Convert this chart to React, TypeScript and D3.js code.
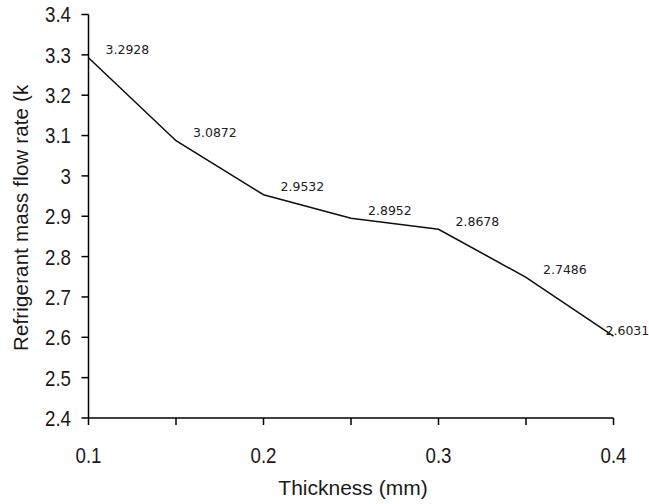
import React from "react";
import * as d3 from "d3";

const thickness = [0.1, 0.15, 0.2, 0.25, 0.3, 0.35, 0.4];
const flowRate = [3.2928, 3.0872, 2.9532, 2.8952, 2.8678, 2.7486, 2.6031];
const valueLabels = ["3.2928", "3.0872", "2.9532", "2.8952", "2.8678", "2.7486", "2.6031"];
const xTickLabels = [0.1, 0.2, 0.3, 0.4];
const yTickValues = [2.4, 2.5, 2.6, 2.7, 2.8, 2.9, 3.0, 3.1, 3.2, 3.3, 3.4];

export default function App() {
  const W = 649, H = 504;
  const x = d3.scaleLinear().domain([0.1, 0.4]).range([88.5, 613.5]);
  const y = d3.scaleLinear().domain([2.4, 3.4]).range([418, 14.5]);
  const line = d3.line<number>().x((_, i) => x(thickness[i])).y((d) => y(d));
  const xMinor = d3.range(0.1, 0.4001, 0.05);
  const font = "'Liberation Sans', Arial, sans-serif";
  const last = flowRate.length - 1;
  return (
    <svg width={W} height={H} style={{ position: "absolute", left: 0, top: 0, background: "#fff" }}>
      <defs>
        <clipPath id="ylab">
          <rect x={0} y={84} width={60} height={300} />
        </clipPath>
      </defs>
      <rect width={W} height={H} fill="#fff" />
      <line x1={x(0.1)} x2={x(0.1)} y1={y(3.4)} y2={y(2.4)} stroke="#000" strokeWidth={1.5} />
      <line x1={x(0.1)} x2={x(0.4)} y1={y(2.4)} y2={y(2.4)} stroke="#000" strokeWidth={1.5} />
      {yTickValues.map((v) => (
        <g key={v}>
          <line x1={x(0.1) - 7} x2={x(0.1)} y1={y(v)} y2={y(v)} stroke="#000" strokeWidth={1.5} />
          <text
            transform={`translate(71,${y(v)}) scale(0.85,1)`}
            dy="0.36em"
            textAnchor="end"
            fontFamily={font}
            fontSize={22}
            fill="#1a1a1a"
          >
            {d3.format("~g")(+v.toFixed(1))}
          </text>
        </g>
      ))}
      {xMinor.map((v) => (
        <line key={v} x1={x(v)} x2={x(v)} y1={y(2.4)} y2={y(2.4) + 7} stroke="#000" strokeWidth={1.5} />
      ))}
      {xTickLabels.map((v) => (
        <text
          key={v}
          transform={`translate(${x(v)},463) scale(0.85,1)`}
          textAnchor="middle"
          fontFamily={font}
          fontSize={22}
          fill="#1a1a1a"
        >
          {v.toFixed(1)}
        </text>
      ))}
      <text x={353} y={495} textAnchor="middle" fontFamily={font} fontSize={21} fill="#1a1a1a">
        Thickness (mm)
      </text>
      <g clipPath="url(#ylab)">
        <text transform="translate(28,351) rotate(-90)" textAnchor="start" fontFamily={font} fontSize={20.5} letterSpacing={0.15} fill="#1a1a1a">
          Refrigerant mass flow rate (kg/s)
        </text>
      </g>
      <path d={line(flowRate) || ""} fill="none" stroke="#111" strokeWidth={1.6} />
      {flowRate.map((v, i) => (
        <text
          key={i}
          x={x(thickness[i]) + (i === last ? -8 : 17)}
          y={y(v) - (i === last ? 5 : 8)}
          dy="0.35em"
          fontFamily="'DejaVu Sans', sans-serif"
          fontSize={12.5}
          fill="#222"
        >
          {valueLabels[i]}
        </text>
      ))}
    </svg>
  );
}
